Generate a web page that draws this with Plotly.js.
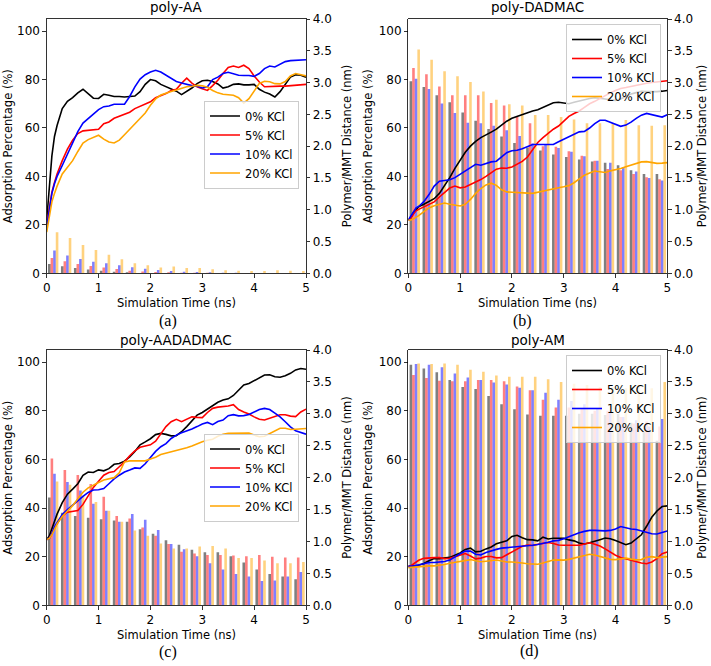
<!DOCTYPE html>
<html>
<head>
<meta charset="utf-8">
<script src="https://cdn.plot.ly/plotly-3.0.1.min.js"></script>
<style>html,body{margin:0;padding:0;background:#fff}#chart{width:711px;height:666px}</style>
</head>
<body>
<div id="chart"></div>
<script>
// ---------- data ----------
const series = ['0% KCl', '5% KCl', '10% KCl', '20% KCl'];
const panelTitles = ['poly-AA', 'poly-DADMAC', 'poly-AADADMAC', 'poly-AM'];
const panelLabels = ['(a)', '(b)', '(c)', '(d)'];

// simulation time for adsorption curves (ns)
const t = [0,0.05,0.1,0.15,0.2,0.3,0.4,0.5,0.6,0.7,0.8,0.9,1.0,1.1,1.2,1.3,1.4,1.5,1.6,1.7,1.8,1.9,2.0,2.1,2.2,2.3,2.4,2.5,2.6,2.7,2.8,2.9,3.0,3.1,3.2,3.3,3.4,3.5,3.6,3.7,3.8,3.9,4.0,4.1,4.2,4.3,4.4,4.5,4.6,4.7,4.8,4.9,5.0];
// time window centres for the distance bars (ns)
const barT = [0.125,0.375,0.625,0.875,1.125,1.375,1.625,1.875,2.125,2.375,2.625,2.875,3.125,3.375,3.625,3.875,4.125,4.375,4.625,4.875];

// adsorption percentage (%)
const aa0 = [22,37,48.5,56.5,61,68,71,72.5,74.5,76,74,72.3,72.2,73.9,73.5,73,73,72.8,73,73.2,75,78,80,79.5,78,77,76.3,75.2,73.8,75,76.5,78.3,79.5,79.7,79.2,78.2,76.5,77,78,78.2,77.8,77.8,78,76,74.8,74,72.8,75,78,81,82,81.8,81];
const aa5 = [20,27,33.5,37.5,41,46.5,51.3,55,57.7,58.8,59,59,59.5,61.8,62.5,64,64.8,65.5,66.5,68,69,69.8,70.8,72.5,73.3,74.2,75.5,76,78.5,80.6,78.5,77,76.2,75.5,77.5,79.7,82.5,85,85.6,85,85.9,84.5,81.5,79,77,77.2,77.2,77.3,77.3,77.5,77.6,77.8,78];
const aa10 = [19,26,33,37,40,44.5,49,53.5,58.5,62,63.8,65.5,67.6,68.8,69.1,69.8,69.8,69.8,73,77,80.2,82,83.1,83.8,83.1,81.8,80.2,79.2,78.6,78,77.5,77.2,76.5,77,80,81,82.5,83,82.4,81.8,81.7,81.7,81.3,82.5,84.5,85.6,85.2,86.3,87.4,87.8,87.9,88,88.2];
const aa20 = [17,24,29.5,33,36,41,43.8,46.5,50.3,53.8,55.2,56,57,55.4,54.2,53.8,55,57.2,59.5,62,64.3,66.2,69.4,72,73.6,74.5,75.1,75.7,76.5,77,77.2,77.6,77.4,76.8,75.5,74.5,73.9,73.6,73.5,72.5,70.3,72.1,75.1,78.4,79.3,79.1,78.3,78.2,79.2,81.5,82.5,82,81.5];

const dd0 = [22,23,25,26.5,27.5,28.5,29.5,30.8,33,36,39.5,43.3,46.5,50,52.5,54.5,56,57.3,58.3,59.5,61.1,62.8,64,64.8,65.6,66.5,67,67.5,68.5,69.6,70.4,70.6,70.3,70,70.6,71.2,71.6,72.2,72.5,72.4,72,71.6,71.4,72,73,74,74.6,75.1,75,74.9,75,75.2,75.5];
const dd5 = [22,22.8,24.5,25.8,26.4,27.4,28.3,29.5,31.5,33.5,35.2,36,35.3,35.6,36.6,37.7,38.7,40,41.5,43,43.5,43.4,43.9,45,46.2,48,51,54,56,57.8,59.5,60.8,62.8,64.8,66,67,68.5,70,71,72.2,73.5,74.5,75.5,76.3,76.7,77.2,77.6,78.1,78.5,78.8,79.1,79.3,79.5];
const dd10 = [22,23.5,25.5,27,27.6,29.6,32.5,36,38,38.3,38.6,39.5,40.8,42.2,43.6,45,44.6,45.4,46,46.3,48,49.8,50.6,50.8,51.4,52.3,53.2,53.2,53.2,53.1,53.2,54.3,55.3,56.3,57.3,58.4,58.6,60,61.8,63.2,63.2,62.3,61.3,60.7,61.2,62.4,64,65.3,66,65.5,64.8,64.5,65.5];
const dd20 = [22,22,22.5,23,23.8,25.5,27,27.9,28.5,29,28.5,28,27.8,28.5,30.5,33,35,36.5,37.2,36.3,34.5,33.6,33.4,33.3,33.2,33.1,33,33.5,34,34.6,35,35.3,35.7,36.2,37.4,39,40.5,41.4,42.2,41.9,41.6,42.3,42.7,43.3,44,44.6,45.3,46,46.1,45.8,45.4,45.5,45.7];

const ac0 = [27,28.5,31.5,34.5,37.5,42.2,45.7,47.8,50,53.5,54.8,54.6,55.7,55.3,56.2,58,58.3,59.3,61,63.3,66,67.2,68.5,70.2,70.7,70.3,69.7,69.8,71.4,73.5,75.8,78.2,79.3,80.7,82,83.5,84.4,84.9,86.3,88.3,90.6,91.2,92.3,93.5,94.7,94.8,94,93.8,94.4,95.4,96.8,97.4,97.1];
const ac5 = [27,27.5,29.5,32,33.5,36.8,38.3,38.8,39,41.5,45,48.5,51,53.5,54.6,55,57,59,61.5,63.5,65,65.5,66,67.5,70.5,73.5,75.5,76.5,75.5,76.5,77.5,77.3,77.2,79.3,81,81.5,81.6,82,82.5,80.5,79.5,78.7,77.5,76.5,76.2,77,77.6,78.4,78.4,77.8,77.6,79.5,80.7];
const ac10 = [27,27.5,29.5,32.3,34,37.3,39.4,41.3,43.2,44.8,46.4,47.4,47.5,48,50,52,53.5,54.8,55.6,56.5,56.3,58.2,60.8,63.3,65.2,66.5,68.6,70,71,71.6,72.5,73.5,74.6,75.2,74.3,75.6,76.2,78,78.4,77.9,78,78.5,79.5,80.5,81,80.5,79,77.5,75.5,73.4,71.8,71,70.4];
const ac20 = [27,27.5,29,31.5,33.5,36.5,38.8,41,43.8,46.5,48.3,49.5,50.5,51.5,52.1,52.5,54.5,59,59.4,59.4,59.2,59.4,60.2,60.9,62,62.5,63,63.5,64,64.8,65.5,66.5,67.3,67.9,68.3,69.5,70.3,70.7,70.8,70.8,71,70.8,70,69.3,69.5,70.6,71.8,72.8,72.8,72.3,72.4,72.7,72.7];

const am0 = [16,16,16.2,16.3,16.5,17.2,18.3,19.2,19.2,19.3,19.7,20.6,21.5,23,23.5,22,22.2,23.2,24,25.3,26,26.5,28.3,28.8,27.8,27,26.9,26.5,28,27.3,27.6,27.5,27.6,26.9,26.5,25.6,25.2,25.7,26.2,27,27.7,27.4,26.6,25.7,24.9,25.6,27.4,29,32.5,36.2,38.8,40.6,40.9];
const am5 = [16,16.3,17,17.8,18.5,19.3,19.6,19.6,19.6,19.2,19.3,20,20.8,21.3,20.3,19.1,19.4,20.1,20.1,19.5,19.6,20.8,22,23.2,24.3,24.8,24.6,25.1,25.6,25.8,25.4,24.8,24.7,24.8,24.7,24.7,25.2,25.7,25.1,24.4,23.2,21.9,20.6,19.7,19.1,18.7,18,17.4,17.1,17.8,19.2,21.2,21.9];
const am10 = [16,16,16.2,16.4,16.7,17.1,17.6,17.6,17.7,18,18.6,20,21.2,22.3,22.3,21,20.7,21.7,22.5,23,23.5,23.7,23.7,23.8,24.2,24.4,24.7,25,25.3,25.9,26.5,26.7,27.4,28.3,29,29.8,30.4,30.8,30.8,30.6,30.6,30.8,31.4,32.4,31.8,31.4,31.2,30.6,30,29.4,29.3,30,30.6];
const am20 = [15.5,15.6,15.8,15.9,16,16.2,16.2,16.2,16.4,16.8,17.3,17.6,17.9,18.4,18.8,18.3,17.9,18.1,18.4,18.6,18.2,17.8,17.8,17.7,17.4,17.1,16.9,16.9,17.4,18,18.6,18.7,18.6,18.9,19.4,19.9,20.5,21,20.7,20.2,19.4,18.9,18.8,19.2,19.4,19,18.7,18.8,19.8,20,19.6,19.8,20];

// polymer/MMT distance (nm)
const aaD0 = [0.147,0.11,0.084,0.058,0.042,0.026,0.016,0.006,0.004,0.003,0.002,0.002,0.002,0.002,0.001,0.001,0.001,0.001,0.001,0.001];
const aaD5 = [0.24,0.19,0.147,0.115,0.09,0.068,0.042,0.03,0.02,0.016,0.01,0.01,0.008,0.006,0.005,0.004,0.003,0.003,0.002,0.002];
const aaD10 = [0.36,0.28,0.225,0.18,0.16,0.126,0.094,0.073,0.052,0.037,0.026,0.02,0.016,0.01,0.008,0.006,0.005,0.004,0.004,0.003];
const aaD20 = [0.645,0.556,0.446,0.367,0.29,0.22,0.16,0.126,0.09,0.105,0.084,0.084,0.063,0.047,0.042,0.037,0.037,0.047,0.042,0.037];

const ddD0 = [3.02,2.93,2.80,2.69,2.53,2.40,2.27,2.15,2.05,1.98,1.93,1.87,1.83,1.79,1.76,1.74,1.70,1.62,1.56,1.56];
const ddD5 = [3.23,3.13,2.94,2.80,2.80,2.80,2.68,2.64,2.46,2.36,2.00,1.99,1.92,1.85,1.77,1.64,1.62,1.56,1.51,1.48];
const ddD10 = [3.06,2.90,2.67,2.52,2.37,2.36,2.32,2.25,2.16,2.04,2.02,1.97,1.91,1.84,1.77,1.74,1.67,1.60,1.50,1.46];
const ddD20 = [3.52,3.36,3.18,3.10,3.01,2.86,2.73,2.66,2.64,2.49,2.49,2.46,2.42,2.36,2.36,2.36,2.41,2.33,2.32,2.33];

const acD0 = [1.69,1.45,1.40,1.37,1.35,1.33,1.31,1.19,1.12,1.02,0.95,0.87,0.83,0.83,0.77,0.67,0.56,0.49,0.45,0.41];
const acD5 = [2.30,2.12,2.04,1.90,1.70,1.40,1.36,1.22,1.09,0.96,0.84,0.81,0.79,0.79,0.78,0.77,0.79,0.76,0.75,0.75];
const acD10 = [2.06,1.93,1.80,1.59,1.48,1.31,1.43,1.34,1.18,0.96,0.88,0.77,0.66,0.56,0.49,0.45,0.38,0.39,0.45,0.52];
const acD20 = [1.94,1.89,1.72,1.62,1.48,1.31,1.17,1.09,0.97,0.89,0.89,0.92,0.93,0.89,0.74,0.74,0.70,0.66,0.66,0.68];

const amD0 = [3.77,3.71,3.65,3.53,3.42,3.39,3.28,3.15,3.07,2.99,2.97,2.97,2.97,3.00,3.00,2.98,3.00,2.86,2.72,2.58];
const amD5 = [3.61,3.56,3.52,3.51,3.51,3.53,3.53,3.51,3.43,3.37,3.22,3.10,3.10,3.08,3.05,3.05,2.95,2.85,2.88,2.80];
const amD10 = [3.78,3.77,3.73,3.63,3.57,3.53,3.49,3.46,3.41,3.37,3.33,3.22,3.20,3.15,3.08,3.05,2.95,2.90,2.80,2.92];
const amD20 = [3.79,3.78,3.79,3.77,3.69,3.66,3.60,3.58,3.58,3.58,3.54,3.50,3.47,3.45,3.42,3.42,3.40,3.45,3.40,3.50];

const adsorption = [[aa0,aa5,aa10,aa20],[dd0,dd5,dd10,dd20],[ac0,ac5,ac10,ac20],[am0,am5,am10,am20]];
const distance = [[aaD0,aaD5,aaD10,aaD20],[ddD0,ddD5,ddD10,ddD20],[acD0,acD5,acD10,acD20],[amD0,amD5,amD10,amD20]];

// ---------- style ----------
const W = 711, H = 666;
const lineColors = ['#000000','#ff0000','#0000ff','#ffa500'];
const barColors = ['rgba(0,0,0,0.5)','rgba(255,0,0,0.5)','rgba(0,0,255,0.5)','rgba(255,165,0,0.5)'];
const FONT = 'DejaVu Sans, sans-serif';
// plot boxes in pixels: [left, right, top, bottom]
const boxes = [[46.7,306,19,273.3],[408.3,667.3,19,273.3],[46.7,306,350,605.3],[408.3,667.3,350,605.3]];
const leftTitleX = [8, 368, 8, 368];
const rightTitleX = [347, 702, 347, 702];
const titleY = [7, 7, 339.5, 339.5];
const legendPos = [
  {x:299, y:144.5, yanchor:'middle'},
  {x:661, y:24, yanchor:'top'},
  {x:299, y:477.5, yanchor:'middle'},
  {x:661, y:355, yanchor:'top'}
];
const labelPos = [[168,320.5],[522,320.5],[168,652],[529,651]];

const px = v => v / W;
const py = v => 1 - v / H;

const traces = [];
const layout = {
  width: W, height: H,
  margin: {l:0, r:0, t:0, b:0},
  paper_bgcolor: '#ffffff', plot_bgcolor: 'rgba(0,0,0,0)',
  barmode: 'group', bargap: 0.2, bargroupgap: 0,
  showlegend: true,
  annotations: []
};

const tickCommon = {
  ticks: 'outside', ticklen: 3.5, tickwidth: 0.8, tickcolor: '#000',
  showline: true, linecolor: '#000', linewidth: 0.8,
  showgrid: false, zeroline: false,
  tickfont: {family: FONT, size: 12, color: '#000'}
};

for (let p = 0; p < 4; p++) {
  const [l, r, top, bot] = boxes[p];
  const xi = p + 1;
  const xName = 'x' + (p === 0 ? '' : xi);
  const yBarIdx = 2 * p + 1, yLineIdx = 2 * p + 2;
  const yBar = 'y' + (yBarIdx === 1 ? '' : yBarIdx);
  const yLine = 'y' + yLineIdx;
  const legName = 'legend' + (p === 0 ? '' : xi);

  layout['xaxis' + (p === 0 ? '' : xi)] = Object.assign({}, tickCommon, {
    domain: [px(l), px(r)], anchor: yBar, range: [0, 5], dtick: 1, mirror: true
  });
  layout['yaxis' + (yBarIdx === 1 ? '' : yBarIdx)] = Object.assign({}, tickCommon, {
    domain: [py(bot), py(top)], anchor: xName, side: 'right', range: [0, 4], dtick: 0.5, tickformat: '.1f'
  });
  layout['yaxis' + yLineIdx] = Object.assign({}, tickCommon, {
    overlaying: yBar, anchor: xName, side: 'left', range: [0, 105], dtick: 20
  });

  // bars (distance)
  for (let s = 0; s < 4; s++) {
    traces.push({
      type: 'bar', x: barT, y: distance[p][s], xaxis: xName, yaxis: yBar,
      marker: {color: barColors[s], line: {width: 0}},
      showlegend: false, hoverinfo: 'skip'
    });
  }
  // lines (adsorption)
  for (let s = 0; s < 4; s++) {
    traces.push({
      type: 'scatter', mode: 'lines', x: t, y: adsorption[p][s], xaxis: xName, yaxis: yLine,
      line: {color: lineColors[s], width: 1.6}, name: series[s], legend: legName, hoverinfo: 'skip'
    });
  }

  const lp = legendPos[p];
  layout[legName] = {
    x: px(lp.x), y: py(lp.y), xanchor: 'right', yanchor: lp.yanchor,
    xref: 'paper', yref: 'paper',
    bgcolor: 'rgba(255,255,255,0.8)', bordercolor: '#cccccc', borderwidth: 1,
    font: {family: FONT, size: 11.5, color: '#000'}, tracegroupgap: 0
  };

  const cx = (l + r) / 2, cy = (top + bot) / 2;
  // subplot title
  layout.annotations.push({text: panelTitles[p], xref: 'paper', yref: 'paper', x: px(cx), y: py(titleY[p]),
    xanchor: 'center', yanchor: 'middle', showarrow: false, font: {family: FONT, size: 13.5, color: '#000'}});
  // x title
  layout.annotations.push({text: 'Simulation Time (ns)', xref: 'paper', yref: 'paper', x: px(cx), y: py(bot + 29.5),
    xanchor: 'center', yanchor: 'middle', showarrow: false, font: {family: FONT, size: 11.5, color: '#000'}});
  // left y title
  layout.annotations.push({text: 'Adsorption Percentage (%)', xref: 'paper', yref: 'paper', x: px(leftTitleX[p]), y: py(cy),
    xanchor: 'center', yanchor: 'middle', textangle: -90, showarrow: false, font: {family: FONT, size: 11.5, color: '#000'}});
  // right y title
  layout.annotations.push({text: 'Polymer/MMT Distance (nm)', xref: 'paper', yref: 'paper', x: px(rightTitleX[p]), y: py(cy),
    xanchor: 'center', yanchor: 'middle', textangle: -90, showarrow: false, font: {family: FONT, size: 11.5, color: '#000'}});
  // panel label
  layout.annotations.push({text: panelLabels[p], xref: 'paper', yref: 'paper', x: px(labelPos[p][0]), y: py(labelPos[p][1]),
    xanchor: 'center', yanchor: 'middle', showarrow: false, font: {family: 'Liberation Serif, DejaVu Serif, serif', size: 16, color: '#000'}});
}

Plotly.newPlot('chart', traces, layout, {staticPlot: true, displayModeBar: false});
</script>
</body>
</html>
